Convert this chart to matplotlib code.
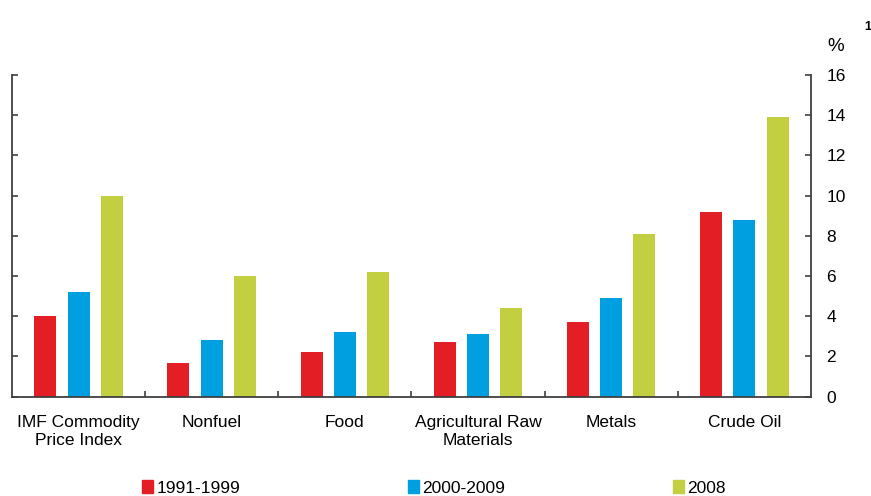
import numpy as np
import matplotlib.pyplot as plt
from matplotlib.patches import Patch

plt.rcParams['font.family'] = ['Liberation Sans', 'DejaVu Sans']

categories = ['IMF Commodity\nPrice Index', 'Nonfuel', 'Food',
              'Agricultural Raw\nMaterials', 'Metals', 'Crude Oil']
series_names = ['1991-1999', '2000-2009', '2008']
vals_1991_1999 = [4.0, 1.7, 2.2, 2.7, 3.7, 9.2]
vals_2000_2009 = [5.2, 2.8, 3.2, 3.1, 4.9, 8.8]
vals_2008 = [10.0, 6.0, 6.2, 4.4, 8.1, 13.9]
yticks = [0, 2, 4, 6, 8, 10, 12, 14, 16]

colors = ['#e31e24', '#009fdf', '#c1cf40']
axis_col = '#404040'

fig = plt.figure(figsize=(8.71, 4.96), dpi=100)
ax = fig.add_axes([0.0138, 0.2002, 0.9172, 0.6486])

x = np.arange(len(categories))
w = 0.165
for i, (vals, c) in enumerate(zip([vals_1991_1999, vals_2000_2009, vals_2008], colors)):
    ax.bar(x + (i - 1) * 0.25, vals, width=w, color=c, label=series_names[i])

ax.set_xlim(-0.5, len(categories) - 0.5)
ax.set_ylim(0, 16)

for s in ['left', 'right', 'bottom']:
    ax.spines[s].set_color(axis_col)
    ax.spines[s].set_linewidth(1.3)
ax.spines['top'].set_visible(False)

ax.set_xticks(x)
ax.set_xticklabels(categories, fontsize=12.5, linespacing=1.2)
ax.set_xticks(np.arange(0.5, len(categories) - 0.5), minor=True)
ax.tick_params(axis='x', which='major', length=0, pad=13.5)
ax.tick_params(axis='x', which='minor', length=4, direction='in', color=axis_col, width=1.2)

ax.set_yticks(yticks)
ax.tick_params(axis='y', which='major', direction='in', length=4, width=1.2, color=axis_col,
               left=True, right=True, labelleft=False, labelright=True, labelsize=12.5, pad=11)

fig.text(0.959, 0.906, '%', fontsize=13.5, ha='center', va='center')
fig.text(0.996, 0.945, '1', fontsize=9, fontweight='bold', ha='center', va='center')

handles = [Patch(color=c) for c in colors]
fig.legend(handles, series_names, loc='center', bbox_to_anchor=(0.498, 0.016), ncol=3,
           frameon=False, fontsize=12.5, handlelength=0.65, handleheight=0.7,
           handletextpad=0.2, columnspacing=9.65)

fig.savefig('out.png', dpi=100)
